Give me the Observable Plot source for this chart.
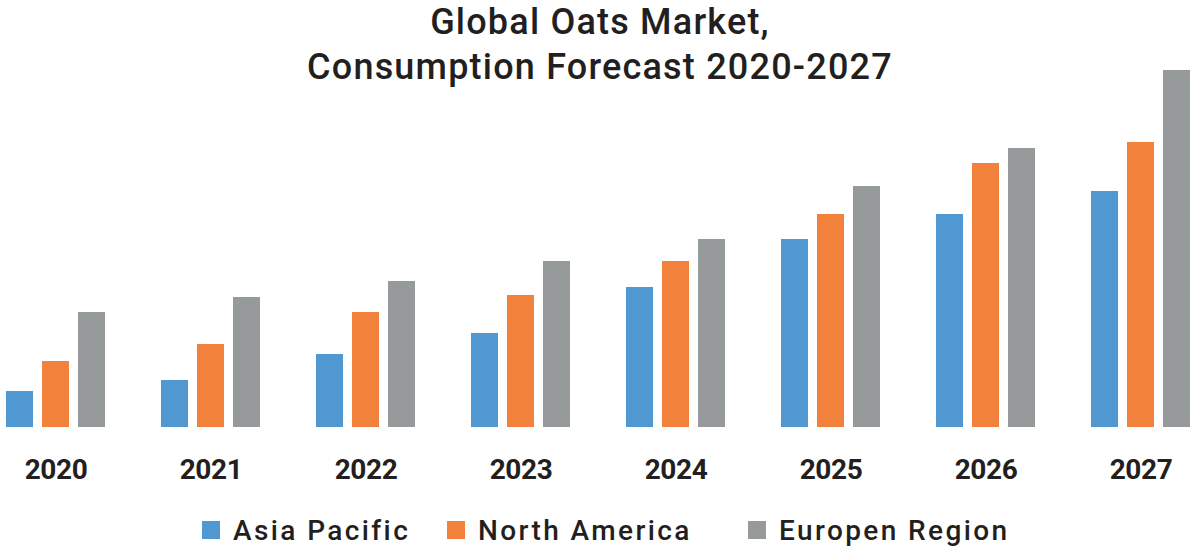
<!DOCTYPE html>
<html>
<head>
<meta charset="utf-8">
<script src="https://cdn.jsdelivr.net/npm/d3@7"></script>
<script src="https://cdn.jsdelivr.net/npm/@observablehq/plot@0.6"></script>
<style>
  body { margin: 0; background: #fff; }
  #wrap { position: relative; width: 1192px; height: 547px; overflow: hidden; font-family: Roboto, "Noto Sans", sans-serif; color: #231f20; }
  #chart { position: absolute; left: 0; top: 0; }
  #chart svg text { letter-spacing: -0.4px; }
  #title { position: absolute; left: 4px; top: 0px; width: 1192px; text-align: center; font-size: 36px; font-weight: 500; line-height: 44.5px; letter-spacing: 1.2px; z-index: 2; }
  .item { position: absolute; top: 515px; height: 30px; display: flex; align-items: center; font-size: 28px; font-weight: 500; letter-spacing: 2.4px; white-space: nowrap; }
  .sw { width: 18px; height: 18px; margin-right: 13px; }
</style>
</head>
<body>
<div id="wrap">
  <div id="title">Global Oats Market,<br>Consumption Forecast 2020-2027</div>
  <div id="chart"></div>
  <div id="legend"></div>
</div>
<script>
const years = ["2020", "2021", "2022", "2023", "2024", "2025", "2026", "2027"];
const regions = ["Asia Pacific", "North America", "Europen Region"];
const asiaPacific   = [36, 47, 73, 94, 140, 188, 213, 236];
const northAmerica  = [66, 83, 115, 132, 166, 213, 264, 285];
const europenRegion = [115, 130, 146, 166, 188, 241, 279, 357];
const colors = ["#5098d2", "#f2823b", "#979a9b"];

const series = [asiaPacific, northAmerica, europenRegion];
const data = [];
years.forEach((yr, i) => {
  regions.forEach((r, j) => data.push({ year: yr, region: r, value: series[j][i] }));
});

const chart = Plot.plot({
  width: 1192,
  height: 500,
  marginTop: 70,
  marginBottom: 73,
  marginLeft: 4,
  marginRight: 0,
  style: { fontFamily: "Roboto, 'Noto Sans', sans-serif", background: "transparent" },
  fx: { domain: years, paddingInner: 0.363, paddingOuter: 0, axis: null },
  x: { domain: regions, paddingInner: 0.25, paddingOuter: 0, axis: null },
  y: { domain: [0, 357], axis: null },
  color: { domain: regions, range: colors },
  marks: [
    Plot.barY(data, { fx: "year", x: "region", y: "value", fill: "region" }),
    Plot.axisFx({ anchor: "bottom", tickSize: 0, tickPadding: 32, fontSize: 28, fontWeight: "bold", fill: "#231f20", label: null })
  ]
});
document.getElementById("chart").appendChild(chart);

const legendLeft = [202, 447, 748];
const legend = document.getElementById("legend");
regions.forEach((r, j) => {
  const it = document.createElement("div");
  it.className = "item";
  it.style.left = legendLeft[j] + "px";
  it.innerHTML = `<span class="sw" style="background:${colors[j]}"></span><span>${r}</span>`;
  legend.appendChild(it);
});
</script>
</body>
</html>
